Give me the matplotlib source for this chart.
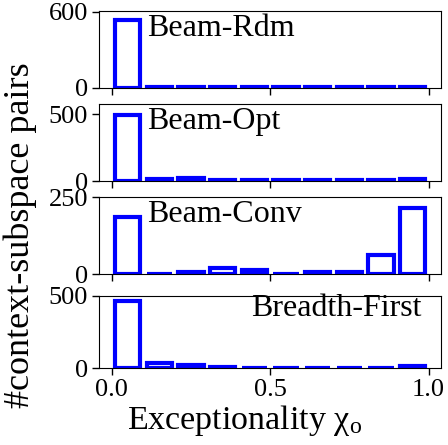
import numpy as np
import matplotlib
matplotlib.use("Agg")
import matplotlib.pyplot as plt

plt.rcParams["font.family"] = ["Liberation Serif", "DejaVu Serif"]
plt.rcParams["mathtext.fontset"] = "custom"
plt.rcParams["mathtext.rm"] = "Liberation Serif"
plt.rcParams["mathtext.it"] = "Liberation Serif:italic"

# Exceptionality histogram: 10 equal bins on [0, 1]
bin_edges = np.linspace(0.0, 1.0, 11)
methods = ["Beam-Rdm", "Beam-Opt", "Beam-Conv", "Breadth-First"]

counts_beam_rdm = [535, 8, 7, 6, 4, 5, 5, 5, 7, 8]
counts_beam_opt = [495, 17, 22, 5, 5, 5, 5, 5, 5, 18]
counts_beam_conv = [185, 2, 8, 22, 14, 1, 6, 6, 63, 215]
counts_breadth_first = [463, 34, 21, 10, 3, 3, 3, 3, 4, 14]

y_upper = [608, 576, 251, 500]
y_ticks = [[0, 600], [0, 500], [0, 250], [0, 500]]
x_ticks = [0.0, 0.5, 1.0]
x_ticklabels = ["0.0", "0.5", "1.0"]

all_counts = [counts_beam_rdm, counts_beam_opt, counts_beam_conv, counts_breadth_first]

W, H = 448, 445
fig = plt.figure(figsize=(W / 100, H / 100), dpi=100)

# panel extents in pixels (top, bottom)
panel_px = [(10.5, 88.0), (104.0, 181.0), (197.0, 274.3), (295.7, 368.3)]
left_px, right_px = 99.3, 441.0

# label placement inside each panel (axes fraction)
label_pos = [(0.14, 0.77, "left"), (0.14, 0.77, "left"),
             (0.14, 0.77, "left"), (0.943, 0.83, "right")]

centers = 0.5 * (bin_edges[:-1] + bin_edges[1:])
widths = 0.8 * np.diff(bin_edges)

axes = []
for i, (name, counts) in enumerate(zip(methods, all_counts)):
    top, bot = panel_px[i]
    ax = fig.add_axes([left_px / W, 1 - bot / H,
                       (right_px - left_px) / W, (bot - top) / H])
    ax.bar(centers, counts, width=widths, facecolor="white",
           edgecolor="blue", linewidth=3)
    ax.set_ylim(0, y_upper[i])
    ax.set_yticks(y_ticks[i])
    ax.set_xticks(x_ticks)
    ax.tick_params(axis="both", labelsize=19, length=5, width=1, pad=3)
    if i < 3:
        ax.set_xticklabels([])
    else:
        ax.set_xticklabels(x_ticklabels)
    tx, ty, ha = label_pos[i]
    ax.text(tx, ty, name, transform=ax.transAxes, ha=ha, va="center",
            fontsize=23)
    axes.append(ax)

fig.text(245 / W, 1 - 429 / H, r"Exceptionality $\mathrm{\chi}_\mathrm{o}$",
         ha="center", va="baseline", fontsize=24.5)
fig.text(20 / W, 1 - 235 / H, "#context-subspace pairs", rotation=90,
         ha="center", va="center", fontsize=26)

fig.savefig("out.png", dpi=100)
